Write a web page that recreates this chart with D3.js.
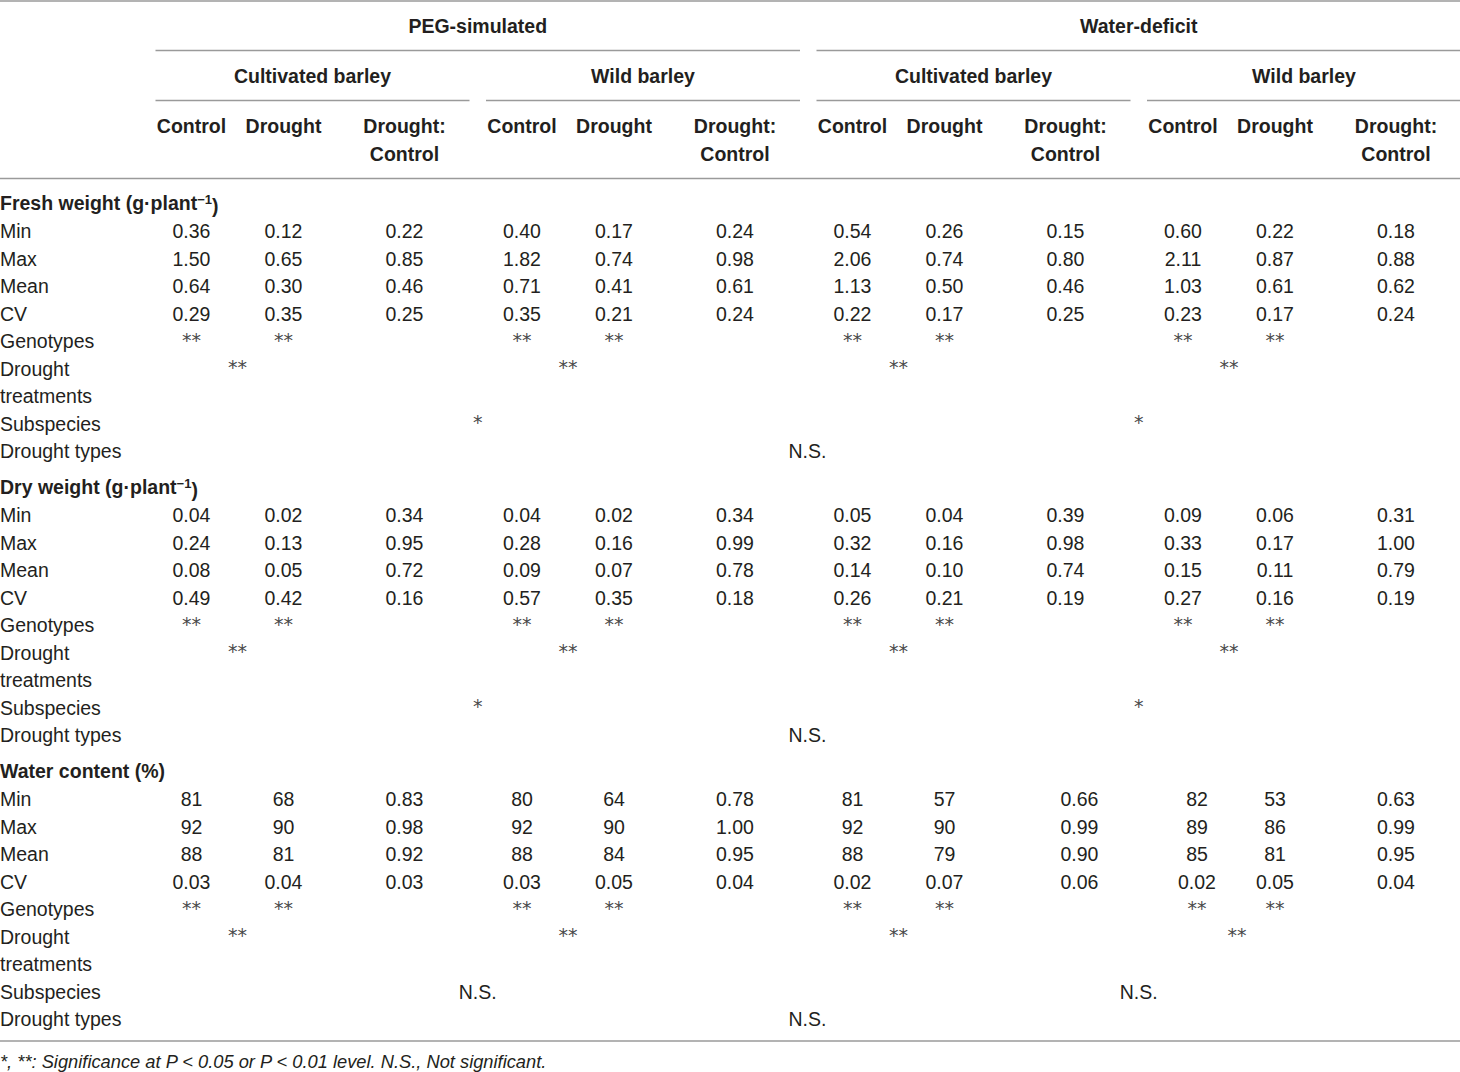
<!DOCTYPE html>
<html><head><meta charset="utf-8">
<script src="https://cdn.jsdelivr.net/npm/d3@7"></script>
<style>body{margin:0;background:#fff}svg{display:block}text{font-family:"Liberation Sans",Arial,sans-serif;fill:#231f20}</style>
</head><body><svg id="c" width="1460" height="1072"></svg>
<script>
const droughtTypes = ["PEG-simulated", "Water-deficit"];
const subspecies = ["Cultivated barley", "Wild barley"];
const treatments = ["Control", "Drought", "Drought:\nControl"];
const sections = ["Fresh weight (g·plant", "Dry weight (g·plant", "Water content (%)"];
const sectionSup = ["−1", "−1", ""];
const statLabels = ["Min", "Max", "Mean", "CV"];
const testLabels = ["Genotypes", "Drought\ntreatments", "Subspecies", "Drought types"];

const freshMin  = ["0.36","0.12","0.22","0.40","0.17","0.24","0.54","0.26","0.15","0.60","0.22","0.18"];
const freshMax  = ["1.50","0.65","0.85","1.82","0.74","0.98","2.06","0.74","0.80","2.11","0.87","0.88"];
const freshMean = ["0.64","0.30","0.46","0.71","0.41","0.61","1.13","0.50","0.46","1.03","0.61","0.62"];
const freshCV   = ["0.29","0.35","0.25","0.35","0.21","0.24","0.22","0.17","0.25","0.23","0.17","0.24"];
const dryMin  = ["0.04","0.02","0.34","0.04","0.02","0.34","0.05","0.04","0.39","0.09","0.06","0.31"];
const dryMax  = ["0.24","0.13","0.95","0.28","0.16","0.99","0.32","0.16","0.98","0.33","0.17","1.00"];
const dryMean = ["0.08","0.05","0.72","0.09","0.07","0.78","0.14","0.10","0.74","0.15","0.11","0.79"];
const dryCV   = ["0.49","0.42","0.16","0.57","0.35","0.18","0.26","0.21","0.19","0.27","0.16","0.19"];
const waterMin  = ["81","68","0.83","80","64","0.78","81","57","0.66","82","53","0.63"];
const waterMax  = ["92","90","0.98","92","90","1.00","92","90","0.99","89","86","0.99"];
const waterMean = ["88","81","0.92","88","84","0.95","88","79","0.90","85","81","0.95"];
const waterCV   = ["0.03","0.04","0.03","0.03","0.05","0.04","0.02","0.07","0.06","0.02","0.05","0.04"];

const genotypeSig  = [["**","**"],["**","**"],["**","**"]];   // per section: control, drought in every group
const treatmentSig = ["**", "**", "**"];                        // per section, every group
const subspeciesSig = [["*","*"],["*","*"],["N.S.","N.S."]];  // per section, per drought type
const droughtTypeSig = ["N.S.", "N.S.", "N.S."];
const footnote = "*, **: Significance at P < 0.05 or P < 0.01 level. N.S., Not significant.";

const sectionStats = [[freshMin,freshMax,freshMean,freshCV],[dryMin,dryMax,dryMean,dryCV],[waterMin,waterMax,waterMean,waterCV]];

// ---------- layout ----------
const svg = d3.select("#c");
const W = 1460, FS = 19.5;
const line = "#9a9a9a";
const groupX = d3.scaleLinear().domain([0, 4]).range([155.5, 1477.5]);   // 4 subspecies groups
const groupW = 314;
const colOff = d3.scaleOrdinal().domain(treatments).range([36, 128, 249]);
const colX = (g, t) => groupX(g) + colOff(treatments[t]);
const secY = d3.scaleLinear().domain([0, 1]).range([203, 487]);
const rowY = d3.scaleLinear().domain([0, 1]).range([231, 258.5]);

function txt(x, y, s, opt = {}) {
  const t = svg.append("text").attr("x", x).attr("y", y).attr("dy", opt.dy || "0.36em")
    .attr("text-anchor", opt.anchor || "middle").style("font-size", (opt.size || FS) + "px");
  if (opt.bold) t.style("font-weight", "bold");
  if (opt.italic) t.style("font-style", "italic");
  if (opt.fill) t.style("fill", opt.fill);
  if (opt.family) t.style("font-family", opt.family);
  t.text(s);
  return t;
}
function hline(x1, x2, y, w = 1.6) {
  svg.append("line").attr("x1", x1).attr("x2", x2).attr("y1", y).attr("y2", y)
    .attr("stroke", line).attr("stroke-width", w);
}
const star = {size: 19, fill: "#4a4a4a", family: "'DejaVu Sans', sans-serif", dy: "0.3em"};

// header
hline(0, W, 1);
droughtTypes.forEach((d, i) => {
  const x0 = groupX(i * 2), x1 = groupX(i * 2 + 1) + groupW;
  txt((x0 + x1) / 2, 26, d, {bold: true});
  hline(x0, x1, 50.5);
});
for (let g = 0; g < 4; g++) {
  const x0 = groupX(g);
  txt(x0 + groupW / 2, 76, subspecies[g % 2], {bold: true});
  hline(x0, x0 + groupW, 100.5);
  treatments.forEach((t, k) => {
    t.split("\n").forEach((p, j) => txt(colX(g, k), 126 + j * 27.5, p, {bold: true}));
  });
}
hline(0, W, 178.5);

// body
sections.forEach((s, si) => {
  const y0 = secY(si);
  const st = txt(0, y0, s, {anchor: "start", bold: true});
  if (sectionSup[si]) {
    st.append("tspan").attr("dy", "-0.45em").style("font-size", "13px").text(sectionSup[si]);
    st.append("tspan").attr("dy", "0.45em").text(")");
  }
  const off = y0 - secY(0);
  // water content section has slightly shifted water-deficit columns
  const shift = si === 2 ? [0,0,0,0,0,0,0,0,14,14,0,0] : d3.range(12).map(() => 0);
  statLabels.forEach((lab, r) => {
    const y = rowY(r) + off;
    txt(0, y, lab, {anchor: "start"});
    sectionStats[si][r].forEach((v, c) => {
      txt(colX(Math.floor(c / 3), c % 3) + shift[c], y, v);
    });
  });
  // tests
  const yG = rowY(4) + off, yT = rowY(5) + off, yS = rowY(7) + off, yD = rowY(8) + off;
  txt(0, yG, testLabels[0], {anchor: "start"});
  testLabels[1].split("\n").forEach((p, j) => txt(0, rowY(5 + j) + off, p, {anchor: "start"}));
  txt(0, yS, testLabels[2], {anchor: "start"});
  txt(0, yD, testLabels[3], {anchor: "start"});
  for (let g = 0; g < 4; g++) {
    const sh = si === 2 && g === 3 ? 14 : 0;
    genotypeSig[si].forEach((a, k) => txt(colX(g, k) + (k === 0 ? sh : 0), yG, a, star));
    txt((colX(g, 0) + colX(g, 1)) / 2 + (sh ? 8 : 0), yT, treatmentSig[si], star);
  }
  droughtTypes.forEach((d, i) => {
    const x0 = groupX(i * 2), x1 = groupX(i * 2 + 1) + groupW;
    const sig = subspeciesSig[si][i];
    txt((x0 + x1) / 2, yS, sig, sig === "*" ? star : {});
  });
  txt((groupX(0) + groupX(4)) / 2 - 9, yD, droughtTypeSig[si]);
});

hline(0, W, 1041);
txt(0, 1061, footnote, {anchor: "start", italic: true, size: 18.3});
</script></body></html>
